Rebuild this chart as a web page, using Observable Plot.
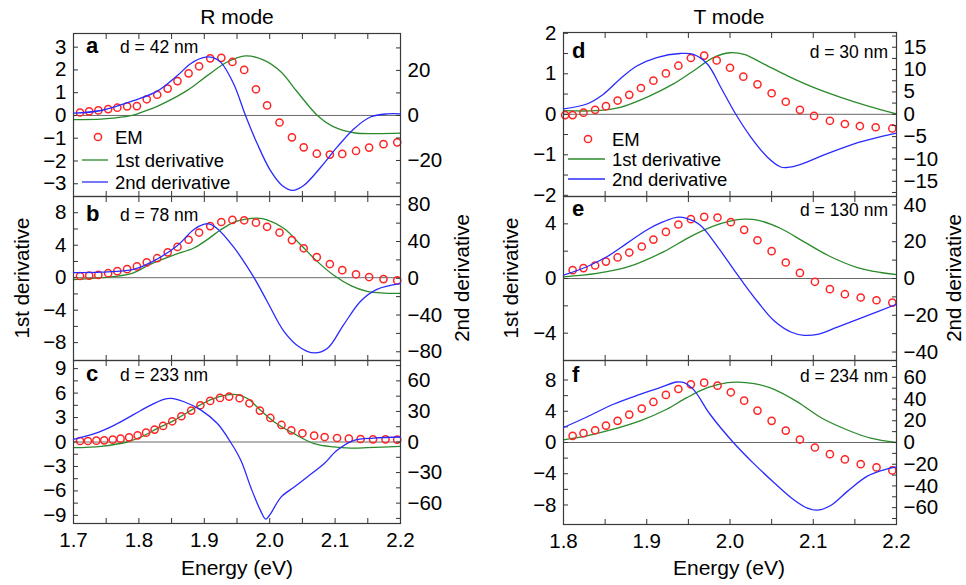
<!DOCTYPE html>
<html><head><meta charset="utf-8">
<script src="https://cdn.jsdelivr.net/npm/d3@7"></script>
<script src="https://cdn.jsdelivr.net/npm/@observablehq/plot@0.6"></script>
<style>
body{margin:0;background:#fff;font-family:"Liberation Sans",Arial,Helvetica,sans-serif;}
#fig{position:relative;width:966px;height:585px;overflow:hidden;background:#fff}
#fig svg{position:absolute}
</style></head><body><div id="fig"></div>
<script>
// ---------- data (R mode) ----------
const emA_x = [1.710,1.724,1.738,1.753,1.767,1.782,1.797,1.812,1.828,1.844,1.859,1.876,1.892,1.909,1.926,1.943,1.961,1.979,1.996,2.015,2.034,2.052,2.072,2.092,2.111,2.132,2.152,2.174,2.195];
const emA_y = [0.13,0.18,0.22,0.28,0.34,0.40,0.41,0.71,0.91,1.18,1.51,1.85,2.16,2.51,2.53,2.35,2.00,1.15,0.44,-0.31,-0.96,-1.40,-1.68,-1.72,-1.69,-1.56,-1.41,-1.26,-1.18];
const d1A_x = [1.70,1.742,1.76,1.79,1.81,1.828,1.874,1.905,1.935,1.963,1.991,2.017,2.042,2.073,2.098,2.129,2.16,2.2];
const d1A_y = [-0.18,-0.16,-0.12,0.0,0.2,0.40,1.10,1.76,2.35,2.62,2.43,1.92,1.04,0.0,-0.50,-0.76,-0.80,-0.78];
const d2A_x = [1.70,1.742,1.793,1.828,1.859,1.879,1.897,1.912,1.925,1.945,1.963,1.981,2.001,2.019,2.035,2.052,2.078,2.103,2.129,2.154,2.18,2.2];
const d2A_y = [1.0,2.2,6.7,10.8,17.8,23,25.6,25.8,23.7,14,0,-12.6,-24.4,-31.1,-33.3,-31.1,-23,-14.1,-5.9,-0.7,0.7,0.7];

const emB_x = [1.710,1.724,1.738,1.753,1.767,1.782,1.797,1.812,1.828,1.844,1.859,1.876,1.892,1.909,1.926,1.943,1.961,1.979,1.996,2.015,2.034,2.052,2.072,2.092,2.111,2.132,2.152,2.174,2.195];
const emB_y = [0.21,0.25,0.34,0.55,0.80,1.05,1.39,1.89,2.40,3.12,3.79,4.67,5.56,6.36,6.86,7.12,7.07,6.78,6.27,5.56,4.63,3.62,2.53,1.68,0.93,0.42,0.08,-0.17,-0.34];
const d1B_x = [1.70,1.742,1.788,1.818,1.854,1.884,1.905,1.925,1.945,1.966,1.981,1.996,2.022,2.047,2.073,2.098,2.124,2.149,2.175,2.2];
const d1B_y = [-0.25,0.0,0.5,1.68,2.82,3.66,4.72,5.9,6.82,7.24,7.33,7.12,6.06,4.08,1.98,0.29,-0.97,-1.68,-1.89,-1.94];
const d2B_x = [1.70,1.742,1.793,1.828,1.859,1.884,1.90,1.907,1.92,1.945,1.976,1.996,2.022,2.047,2.068,2.088,2.113,2.139,2.164,2.2];
const d2B_y = [6.2,6.6,9.9,21,35.7,53,58.8,59.2,54,33.8,0.7,-25,-58,-75.7,-81.3,-76.5,-50.7,-25,-12.1,-5.9];

const emC_x = [1.710,1.722,1.735,1.747,1.760,1.772,1.785,1.798,1.811,1.824,1.837,1.851,1.865,1.880,1.894,1.909,1.924,1.938,1.954,1.969,1.985,2.001,2.018,2.033,2.050,2.068,2.084,2.103,2.121,2.139,2.158,2.177,2.195];
const emC_y = [0.12,0.12,0.16,0.20,0.29,0.41,0.57,0.82,1.15,1.52,1.97,2.54,3.16,3.85,4.51,5.04,5.41,5.57,5.37,4.75,3.85,2.95,2.09,1.43,1.07,0.78,0.61,0.49,0.41,0.37,0.33,0.33,0.29];
const d1C_x = [1.70,1.742,1.782,1.803,1.828,1.854,1.884,1.91,1.935,1.95,1.966,1.986,2.007,2.037,2.068,2.098,2.124,2.149,2.2];
const d1C_y = [-0.70,-0.53,0.0,0.61,1.64,2.66,4.1,5.2,5.78,5.82,5.33,3.89,2.46,1.02,-0.2,-0.61,-0.74,-0.70,-0.53];
const d2C_x = [1.70,1.732,1.762,1.793,1.818,1.838,1.849,1.869,1.895,1.92,1.94,1.956,1.971,1.986,1.994,2.001,2.017,2.037,2.057,2.083,2.103,2.129,2.159,2.2];
const d2C_y = [2.6,8.2,16.4,27.3,36.2,41.8,42.8,39.5,31.3,18.1,0,-18.1,-44.4,-67.4,-75.7,-70.7,-54.3,-44.4,-34.5,-21.4,-8.2,1.6,3.9,4.9];

// ---------- data (T mode) ----------
const emD_x = [1.802,1.811,1.824,1.838,1.851,1.865,1.879,1.893,1.908,1.923,1.938,1.953,1.969,1.984,2.000,2.016,2.033,2.050,2.067,2.084,2.101,2.120,2.138,2.156,2.175,2.195];
const emD_y = [-0.02,-0.02,0.04,0.11,0.20,0.34,0.48,0.65,0.83,1.01,1.20,1.39,1.45,1.33,1.15,0.93,0.74,0.52,0.31,0.11,-0.04,-0.16,-0.24,-0.29,-0.32,-0.35];
const d1D_x = [1.80,1.84,1.868,1.90,1.932,1.956,1.98,2.0,2.017,2.041,2.069,2.101,2.133,2.165,2.2];
const d1D_y = [0.09,0.09,0.17,0.42,0.75,1.07,1.40,1.52,1.48,1.24,0.95,0.66,0.42,0.21,0.01];
const d2D_x = [1.80,1.828,1.848,1.868,1.888,1.912,1.94,1.956,1.973,1.989,2.007,2.025,2.045,2.061,2.069,2.085,2.117,2.149,2.181,2.2];
const d2D_y = [1.2,2.3,4.5,7.9,10.8,12.7,13.6,13.4,11.2,6.0,0,-5.1,-9.6,-11.8,-11.9,-11.2,-8.8,-6.6,-5.0,-4.2];

const emE_x = [1.811,1.824,1.838,1.851,1.865,1.879,1.894,1.908,1.923,1.938,1.953,1.969,1.985,2.001,2.017,2.033,2.050,2.067,2.084,2.102,2.120,2.138,2.157,2.176,2.195];
const emE_y = [0.61,0.76,0.95,1.24,1.54,1.90,2.34,2.85,3.41,3.95,4.34,4.51,4.46,4.12,3.56,2.80,2.00,1.17,0.41,-0.24,-0.78,-1.15,-1.39,-1.59,-1.76];
const d1E_x = [1.80,1.84,1.88,1.92,1.952,1.98,2.0,2.017,2.033,2.061,2.089,2.121,2.153,2.181,2.2];
const d1E_y = [0.12,0.37,0.9,1.95,3.05,3.83,4.2,4.34,4.27,3.66,2.68,1.59,0.80,0.44,0.29];
const d2E_x = [1.80,1.828,1.852,1.876,1.90,1.92,1.936,1.948,1.964,1.985,2.005,2.017,2.033,2.053,2.073,2.089,2.105,2.129,2.161,2.2];
const d2E_y = [1.8,6.4,11.8,19.1,26.4,30.9,33.3,32.7,29.1,17.3,4.5,-3.0,-12.5,-23.0,-29.1,-30.9,-30.4,-26.4,-20.9,-14];

const emF_x = [1.811,1.824,1.838,1.851,1.865,1.879,1.894,1.908,1.923,1.938,1.953,1.969,1.985,2.001,2.017,2.033,2.050,2.067,2.084,2.102,2.120,2.138,2.157,2.176,2.195];
const emF_y = [0.85,1.19,1.57,2.17,2.77,3.57,4.34,5.19,6.09,6.85,7.45,7.66,7.28,6.43,5.36,4.09,2.77,1.53,0.38,-0.64,-1.49,-2.17,-2.77,-3.19,-3.57];
const d1F_x = [1.80,1.828,1.86,1.892,1.924,1.948,1.973,1.997,2.009,2.029,2.053,2.081,2.109,2.141,2.169,2.2];
const d1F_y = [0.34,0.85,1.7,2.77,4.26,5.74,7.02,7.66,7.74,7.53,6.81,5.2,3.2,1.6,0.55,0.0];
const d2F_x = [1.80,1.828,1.86,1.892,1.916,1.936,1.944,1.956,1.976,2.004,2.028,2.053,2.077,2.093,2.105,2.121,2.141,2.165,2.185,2.2];
const d2F_y = [13.8,23.5,35.2,44.3,50.5,55.7,55.4,48.9,26,0,-19,-37,-53,-60.5,-62.3,-58,-45,-31,-25.2,-22.4];

// ---------- ticks ----------
const xTicksR = [1.7,1.8,1.9,2.0,2.1,2.2];
const xMinorR = [1.7,1.75,1.8,1.85,1.9,1.95,2.0,2.05,2.1,2.15,2.2];
const xTicksT = [1.8,1.9,2.0,2.1,2.2];
const xMinorT = [1.8,1.85,1.9,1.95,2.0,2.05,2.1,2.15,2.2];
const yL_A = [-3,-2,-1,0,1,2,3], yR_A = [-20,0,20], yRm_A = [-30,-20,-10,0,10,20,30];
const yL_B = [-8,-4,0,4,8], yLm_B = [-8,-6,-4,-2,0,2,4,6,8], yR_B = [-80,-40,0,40,80], yRm_B = [-80,-60,-40,-20,0,20,40,60,80];
const yL_C = [-9,-6,-3,0,3,6,9], yLm_C = [-9,-7.5,-6,-4.5,-3,-1.5,0,1.5,3,4.5,6,7.5,9], yR_C = [-60,-30,0,30,60], yRm_C = [-75,-60,-45,-30,-15,0,15,30,45,60,75];
const yL_D = [-2,-1,0,1,2], yLm_D = [-2,-1.5,-1,-0.5,0,0.5,1,1.5,2], yR_D = [-15,-10,-5,0,5,10,15], yRm_D = [-17.5,-15,-12.5,-10,-7.5,-5,-2.5,0,2.5,5,7.5,10,12.5,15,17.5];
const yL_E = [-4,0,4], yLm_E = [-4,-2,0,2,4], yR_E = [-40,-20,0,20,40], yRm_E = [-40,-30,-20,-10,0,10,20,30,40];
const yL_F = [-8,-4,0,4,8], yLm_F = [-8,-6,-4,-2,0,2,4,6,8], yR_F = [-60,-40,-20,0,20,40,60], yRm_F = [-70,-60,-50,-40,-30,-20,-10,0,10,20,30,40,50,60,70];

const RED = "#ff2424", GREEN = "#2b8a2b", BLUE = "#2a2aff";
const FONT = "Liberation Sans, Arial, Helvetica, sans-serif";
const TICK_FS = 20.5;
const fmt = d => d < 0 ? "\u2212" + Math.abs(d) : String(d);
const rows = (xs, ys) => xs.map((x, i) => ({x, y: ys[i]}));

const panels = [
  {col:0, y0:33, y1:196, bottom:false, xd:[1.7,2.2], xT:xTicksR, xM:xMinorR, yL:[-3.56,3.6], yR:[-36,36.4], lT:yL_A, lM:yL_A, rT:yR_A, rM:yRm_A, em:[emA_x,emA_y], d1:[d1A_x,d1A_y], d2:[d2A_x,d2A_y]},
  {col:0, y0:196, y1:360, bottom:false, xd:[1.7,2.2], xT:xTicksR, xM:xMinorR, yL:[-10.2,10], yR:[-89.5,89], lT:yL_B, lM:yLm_B, rT:yR_B, rM:yRm_B, em:[emB_x,emB_y], d1:[d1B_x,d1B_y], d2:[d2B_x,d2B_y]},
  {col:0, y0:360, y1:523, bottom:true, xd:[1.7,2.2], xT:xTicksR, xM:xMinorR, yL:[-10,10], yR:[-80,80], lT:yL_C, lM:yLm_C, rT:yR_C, rM:yRm_C, em:[emC_x,emC_y], d1:[d1C_x,d1C_y], d2:[d2C_x,d2C_y]},
  {col:1, y0:32, y1:196, bottom:false, xd:[1.8,2.2], xT:xTicksT, xM:xMinorT, yL:[-2.03,2.02], yR:[-18.4,18.3], lT:yL_D, lM:yLm_D, rT:yR_D, rM:yRm_D, em:[emD_x,emD_y], d1:[d1D_x,d1D_y], d2:[d2D_x,d2D_y]},
  {col:1, y0:196, y1:360, bottom:false, xd:[1.8,2.2], xT:xTicksT, xM:xMinorT, yL:[-6,6], yR:[-44.6,44.6], lT:yL_E, lM:yLm_E, rT:yR_E, rM:yRm_E, em:[emE_x,emE_y], d1:[d1E_x,d1E_y], d2:[d2E_x,d2E_y]},
  {col:1, y0:360, y1:524, bottom:true, xd:[1.8,2.2], xT:xTicksT, xM:xMinorT, yL:[-10.5,10.5], yR:[-75.5,75.5], lT:yL_F, lM:yLm_F, rT:yR_F, rM:yRm_F, em:[emF_x,emF_y], d1:[d1F_x,d1F_y], d2:[d2F_x,d2F_y]}
];

const fig = document.getElementById("fig");
const place = (svg, left, top) => { svg.style.left = left + "px"; svg.style.top = top + "px"; fig.appendChild(svg); };

for (const p of panels) {
  const W = p.col === 0 ? 480 : 486;
  const left = p.col === 0 ? 0 : 480;
  const ml = p.col === 0 ? 73 : 83;
  const mr = p.col === 0 ? 80 : 70;
  const mt = 12, mb = p.bottom ? 45 : 12;
  const H = mt + (p.y1 - p.y0) + mb;
  const common = {width: W, height: H, marginLeft: ml, marginRight: mr, marginTop: mt, marginBottom: mb,
    style: {background: "transparent", overflow: "visible", fontFamily: FONT, color: "#000"}};
  const noText = () => "";
  const base = Plot.plot({
    ...common,
    x: {domain: p.xd},
    y: {domain: p.yL},
    marks: [
      Plot.ruleY([0], {stroke: "#6a6a6a", strokeWidth: 1}),
      Plot.axisX(p.xM, {anchor: "top", tickSize: -5, tickFormat: noText, label: null, stroke: "#333"}),
      Plot.axisX(p.xM, {anchor: "bottom", tickSize: -5, tickFormat: noText, label: null, stroke: "#333"}),
      Plot.axisY(p.lM, {anchor: "left", tickSize: -5, tickFormat: noText, label: null, stroke: "#333"}),
      Plot.axisY(p.lT, {anchor: "left", tickSize: 0, tickPadding: 7, tickFormat: fmt, fontSize: TICK_FS, label: null}),
      p.bottom ? Plot.axisX(p.xT, {anchor: "bottom", tickSize: 0, tickPadding: 9, tickFormat: d => d.toFixed(1), fontSize: TICK_FS, label: null}) : null,
      Plot.line(rows(...p.d1), {x: "x", y: "y", stroke: GREEN, strokeWidth: 1.3, curve: "catmull-rom"}),
      Plot.dot(rows(...p.em), {x: "x", y: "y", r: 3.6, stroke: RED, strokeWidth: 1.5, fill: "none"}),
      Plot.frame({stroke: "#3a3a3a", strokeWidth: 1.2})
    ]
  });
  place(base, left, p.y0 - mt);
  const over = Plot.plot({
    ...common,
    x: {domain: p.xd, axis: null},
    y: {domain: p.yR},
    marks: [
      Plot.axisY(p.rM, {anchor: "right", tickSize: -5, tickFormat: noText, label: null, stroke: "#333"}),
      Plot.axisY(p.rT, {anchor: "right", tickSize: 0, tickPadding: 7, tickFormat: fmt, fontSize: TICK_FS, label: null}),
      Plot.line(rows(...p.d2), {x: "x", y: "y", stroke: BLUE, strokeWidth: 1.3, curve: "catmull-rom"})
    ]
  });
  place(over, left, p.y0 - mt);
}

// ---------- annotations ----------
const titles = ["R mode", "T mode"];
const letters = ["a","b","c","d","e","f"];
const dLabels = ["d = 42 nm","d = 78 nm","d = 233 nm","d = 30 nm","d = 130 nm","d = 234 nm"];
const legendNames = ["EM","1st derivative","2nd derivative"];
const yTitles = ["1st derivative","2nd derivative"];
const xTitle = "Energy (eV)";

const ns = "http://www.w3.org/2000/svg";
const ann = document.createElementNS(ns, "svg");
ann.setAttribute("width", 966); ann.setAttribute("height", 585);
ann.style.left = "0px"; ann.style.top = "0px";
ann.style.fontFamily = FONT;
function txt(s, x, y, opts = {}) {
  const t = document.createElementNS(ns, "text");
  t.textContent = s;
  t.setAttribute("x", x); t.setAttribute("y", y);
  t.setAttribute("font-size", opts.size || 17);
  if (opts.anchor) t.setAttribute("text-anchor", opts.anchor);
  if (opts.bold) t.setAttribute("font-weight", "bold");
  if (opts.rotate) t.setAttribute("transform", `rotate(-90 ${x} ${y})`);
  t.setAttribute("fill", "#000");
  ann.appendChild(t);
}
function el(tag, attrs) {
  const e = document.createElementNS(ns, tag);
  for (const k in attrs) e.setAttribute(k, attrs[k]);
  ann.appendChild(e);
}
txt(titles[0], 237, 24, {size: 21, anchor: "middle"});
txt(titles[1], 729, 24, {size: 21, anchor: "middle"});
const letPos = [[86,53],[86,221],[86,381],[572,58],[572,216],[572,382]];
letPos.forEach(([x,y],i) => txt(letters[i], x, y, {size: 22, bold: true}));
[[120,53],[120,221],[120,381]].forEach(([x,y],i) => txt(dLabels[i], x, y, {size: 17.5}));
[[888,58],[888,216],[888,382]].forEach(([x,y],i) => txt(dLabels[i+3], x, y, {size: 17.5, anchor: "end"}));
// legends
function legend(cx, l0, l1, yEM, y1, y2, tx) {
  el("circle", {cx, cy: yEM, r: 3.6, fill: "none", stroke: RED, "stroke-width": 1.5});
  el("line", {x1: l0, x2: l1, y1: y1, y2: y1, stroke: GREEN, "stroke-width": 1.3});
  el("line", {x1: l0, x2: l1, y1: y2, y2: y2, stroke: BLUE, "stroke-width": 1.3});
  txt(legendNames[0], tx, yEM + 6.5, {size: 18.5});
  txt(legendNames[1], tx, y1 + 6.5, {size: 18.5});
  txt(legendNames[2], tx, y2 + 6.5, {size: 18.5});
}
legend(98, 82, 108, 137, 160, 182, 115);
legend(588, 568, 605, 139, 159, 179, 612);
// axis titles
txt(yTitles[0], 29, 278, {size: 20.5, anchor: "middle", rotate: true});
txt(yTitles[1], 469, 278, {size: 20.5, anchor: "middle", rotate: true});
txt(yTitles[0], 518, 278, {size: 20.5, anchor: "middle", rotate: true});
txt(yTitles[1], 961, 278, {size: 20.5, anchor: "middle", rotate: true});
txt(xTitle, 237, 575, {size: 21, anchor: "middle"});
txt(xTitle, 729, 575, {size: 21, anchor: "middle"});
fig.appendChild(ann);
</script></body></html>
